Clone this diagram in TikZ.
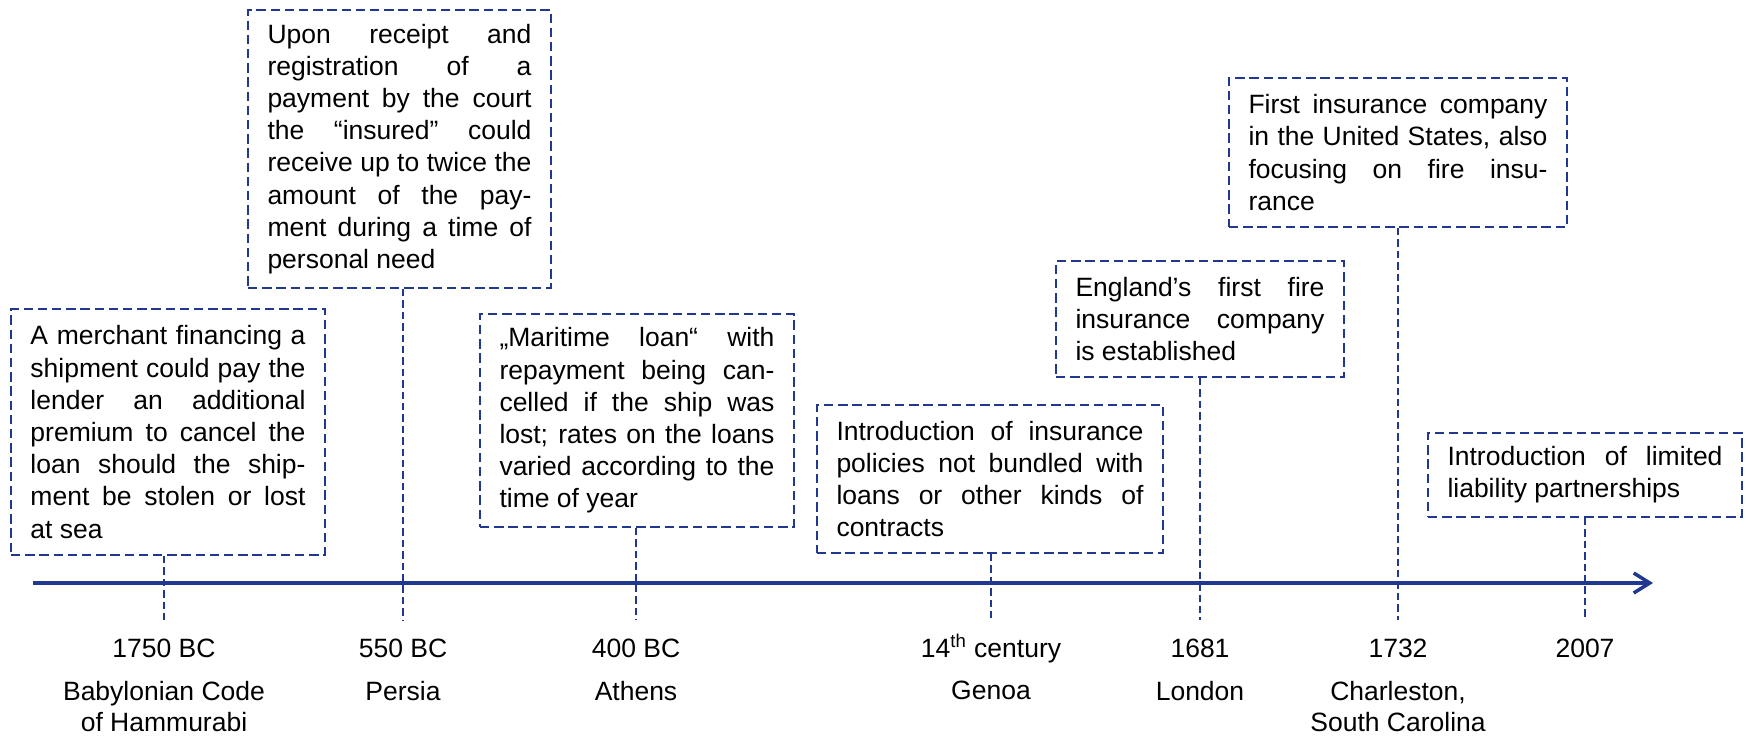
\documentclass[tikz,border=0pt]{standalone}
\usepackage{fontspec}
\setmainfont{Liberation Sans}
\usepackage{tikz}
\usetikzlibrary{arrows.meta, positioning, calc}
\usepackage{xcolor}
\definecolor{timeblue}{RGB}{32, 56, 144}
\hbadness=10000

\begin{document}
\begin{tikzpicture}[x=0.5pt, y=-0.5pt,
    txt/.style={font=\fontsize{13.25pt}{16.1pt}\selectfont},
    event/.style={txt, draw=timeblue, line width=1pt, dash pattern=on 4.7pt off 2.4pt,
      align=justify, inner xsep=9.75pt, inner ysep=0pt},
    tick/.style={draw=timeblue, line width=0.55pt, dash pattern=on 3.7pt off 2pt},
    year/.style={txt, anchor=base, inner sep=0pt},
    place/.style={font=\fontsize{13.25pt}{15.5pt}\selectfont, anchor=north, inner sep=0pt, align=center}]
  \useasboundingbox (0,0) rectangle (1746,737);

  % events
  \node[event, text width=137.5pt, minimum height=123pt] (hammurabi) at (168,432)
    {A merchant financing a\linebreak shipment could pay the\linebreak lender an additional\linebreak
     premium to cancel the\linebreak loan should the ship-\linebreak ment be stolen or lost\linebreak at sea};
  \node[event, text width=132pt, minimum height=139pt] (persia) at (399.5,149)
    {Upon receipt and\linebreak registration of a\linebreak payment by the court\linebreak
     the “insured” could\linebreak receive up to twice the\linebreak amount of the pay-\linebreak
     ment during a time of\linebreak personal need};
  \node[event, text width=137.5pt, minimum height=106.5pt] (athens) at (637,420.5)
    {„Maritime loan“ with\linebreak repayment being can-\linebreak celled if the ship was\linebreak
     lost; rates on the loans\linebreak varied according to the\linebreak time of year};
  \node[event, text width=153.5pt, minimum height=74pt] (genoa) at (990,479)
    {Introduction of insurance\linebreak policies not bundled with\linebreak loans or other kinds of\linebreak contracts};
  \node[event, text width=124.5pt, minimum height=58pt] (london) at (1200,319)
    {England’s first fire\linebreak insurance company\linebreak is established};
  \node[event, text width=149.5pt, minimum height=74.5pt] (charleston) at (1398,152.5)
    {First insurance company\linebreak in the United States, also\linebreak focusing on fire insu-\linebreak rance};
  \node[event, text width=137.5pt, minimum height=42pt] (llp) at (1585,475)
    {Introduction of limited\linebreak liability partnerships};

  % dates and places
  \node[year] (y1750) at (164,657.5) {1750 BC};
  \node[year] (y550) at (403,657.5) {550 BC};
  \node[year] (y400) at (636,657.5) {400 BC};
  \node[year] (y14c) at (991,657.5) {14\textsuperscript{th} century};
  \node[year] (y1681) at (1200,657.5) {1681};
  \node[year] (y1732) at (1398,657.5) {1732};
  \node[year] (y2007) at (1585,657.5) {2007};

  \node[place] (babylon) at (164,680.5) {Babylonian Code\\of Hammurabi};
  \node[place] (persiaplace) at (403,680.5) {Persia};
  \node[place] (athensplace) at (636,680.5) {Athens};
  \node[place] (genoaplace) at (991,680.5) {Genoa};
  \node[place] (londonplace) at (1200,680.5) {London};
  \node[place] (carolina) at (1398,680.5) {Charleston,\\South Carolina};

  % time axis
  \coordinate (axstart) at (33,583);
  \coordinate (axend) at (1653,583);
  \coordinate (tickend) at (0,620);
  \draw[timeblue, line width=1.75pt, -{Straight Barb[length=8pt, width=10pt]}] (axstart) -- (axend);

  \foreach \ev/\yr in {hammurabi/y1750, persia/y550, athens/y400, genoa/y14c,
                       london/y1681, charleston/y1732, llp/y2007}
    \draw[tick] (\ev.south -| \yr) -- (\yr |- tickend);
\end{tikzpicture}
\end{document}
